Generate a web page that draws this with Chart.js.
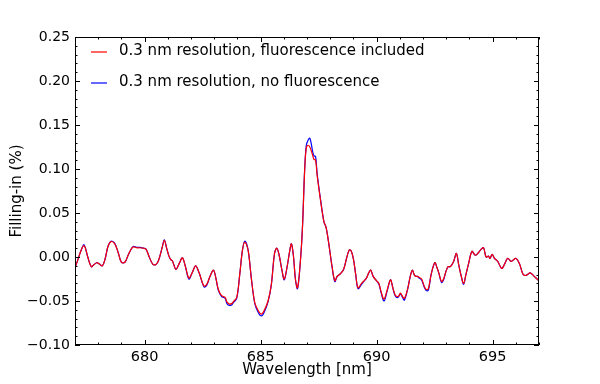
<!DOCTYPE html>
<html>
<head>
<meta charset="utf-8">
<script src="https://cdn.jsdelivr.net/npm/chart.js@4/dist/chart.umd.min.js"></script>
<style>
html,body{margin:0;padding:0;background:#fff;}
#wrap{width:600px;height:384px;}
</style>
</head>
<body>
<div id="wrap"><canvas id="c" width="600" height="384"></canvas></div>
<script>
const wavelengths = [677.0,677.1,677.2,677.3,677.38,677.45,677.55,677.7,677.8,677.94,678.05,678.18,678.3,678.42,678.55,678.7,678.85,679.0,679.15,679.29,679.4,679.51,679.65,679.8,679.95,680.06,680.2,680.35,680.49,680.6,680.75,680.85,680.95,681.05,681.13,681.2,681.35,681.5,681.63,681.75,681.91,682.05,682.2,682.35,682.56,682.68,682.82,682.97,683.08,683.18,683.32,683.47,683.55,683.65,683.75,683.82,683.97,684.1,684.22,684.32,684.46,684.6,684.75,684.9,685.03,685.15,685.32,685.46,685.6,685.7,685.8,685.92,686.02,686.15,686.25,686.33,686.42,686.5,686.59,686.7,686.8,686.9,686.97,687.05,687.12,687.18,687.25,687.3,687.37,687.44,687.58,687.73,687.82,687.94,688.08,688.2,688.3,688.44,688.58,688.7,688.82,688.9,689.0,689.1,689.2,689.35,689.5,689.56,689.68,689.75,689.85,690.0,690.1,690.2,690.32,690.45,690.6,690.7,690.8,690.92,691.03,691.1,691.2,691.35,691.45,691.54,691.62,691.69,691.76,691.83,691.94,692.05,692.14,692.23,692.35,692.51,692.6,692.68,692.8,692.9,692.97,693.08,693.18,693.32,693.44,693.54,693.65,693.75,693.85,693.97,694.11,694.25,694.36,694.51,694.61,694.72,694.82,694.89,694.98,695.08,695.22,695.39,695.5,695.65,695.79,695.89,696.0,696.15,696.3,696.4,696.5,696.62,696.79,697.0];

const fluorescenceIncluded = [-0.012,-0.005,0.003,0.010,0.013,0.010,0.000,-0.011,-0.009,-0.0065,-0.008,-0.010,-0.002,0.012,0.0175,0.0155,0.006,-0.006,-0.006,0.002,0.008,0.0115,0.0105,0.0105,0.010,0.009,0.000,-0.008,-0.0085,-0.004,0.010,0.019,0.010,0.001,-0.003,-0.0045,-0.014,-0.007,-0.001,-0.010,-0.024,-0.018,-0.010,-0.018,-0.033,-0.031,-0.022,-0.015,-0.025,-0.037,-0.044,-0.046,-0.051,-0.0535,-0.053,-0.051,-0.046,-0.020,0.008,0.017,0.008,-0.024,-0.052,-0.061,-0.065,-0.061,-0.050,-0.032,0.004,0.010,0.002,-0.015,-0.025,-0.010,0.006,0.015,0.000,-0.025,-0.035,-0.010,0.031,0.099,0.124,0.127,0.125,0.121,0.115,0.111,0.110,0.092,0.065,0.040,0.034,0.015,-0.011,-0.027,-0.022,-0.019,-0.014,-0.002,0.008,0.007,-0.002,-0.020,-0.035,-0.030,-0.026,-0.024,-0.017,-0.015,-0.022,-0.027,-0.030,-0.040,-0.048,-0.038,-0.026,-0.035,-0.043,-0.045,-0.041,-0.044,-0.047,-0.035,-0.022,-0.015,-0.020,-0.022,-0.022,-0.023,-0.025,-0.033,-0.037,-0.036,-0.020,-0.0065,-0.012,-0.018,-0.028,-0.024,-0.018,-0.011,-0.011,-0.005,0.004,-0.009,-0.022,-0.030,-0.020,-0.007,0.0065,0.002,0.004,0.009,0.0105,0.000,0.001,-0.0015,0.003,-0.0015,-0.005,-0.013,-0.009,-0.0015,-0.005,-0.0035,-0.0015,-0.007,-0.019,-0.021,-0.020,-0.018,-0.022,-0.027];

const noFluorescence = [-0.012,-0.005,0.003,0.010,0.014,0.010,0.000,-0.011,-0.009,-0.0065,-0.008,-0.010,-0.002,0.012,0.018,0.016,0.006,-0.006,-0.006,0.002,0.008,0.012,0.011,0.011,0.010,0.009,0.000,-0.008,-0.0085,-0.004,0.010,0.0195,0.010,0.001,-0.003,-0.0045,-0.014,-0.007,-0.001,-0.010,-0.025,-0.018,-0.010,-0.018,-0.034,-0.032,-0.022,-0.015,-0.025,-0.038,-0.045,-0.047,-0.053,-0.055,-0.0545,-0.052,-0.047,-0.020,0.008,0.018,0.008,-0.024,-0.053,-0.063,-0.067,-0.063,-0.051,-0.032,0.004,0.010,0.002,-0.015,-0.026,-0.010,0.006,0.015,0.000,-0.025,-0.036,-0.010,0.031,0.100,0.127,0.133,0.135,0.129,0.119,0.115,0.114,0.094,0.066,0.040,0.034,0.015,-0.011,-0.028,-0.022,-0.019,-0.014,-0.002,0.008,0.007,-0.002,-0.020,-0.036,-0.031,-0.026,-0.024,-0.017,-0.015,-0.022,-0.027,-0.031,-0.041,-0.050,-0.039,-0.026,-0.035,-0.044,-0.046,-0.042,-0.045,-0.049,-0.035,-0.022,-0.015,-0.020,-0.022,-0.022,-0.024,-0.026,-0.034,-0.038,-0.038,-0.020,-0.0065,-0.012,-0.018,-0.029,-0.025,-0.018,-0.011,-0.011,-0.005,0.004,-0.009,-0.022,-0.031,-0.020,-0.007,0.0065,0.002,0.004,0.009,0.0105,0.000,0.001,-0.0015,0.003,-0.0015,-0.005,-0.013,-0.009,-0.0015,-0.005,-0.0035,-0.0015,-0.007,-0.019,-0.021,-0.020,-0.018,-0.022,-0.027];

const xTicks = [680, 685, 690, 695];
const yTicks = [-0.10, -0.05, 0.00, 0.05, 0.10, 0.15, 0.20, 0.25];
const seriesLabels = ['0.3 nm resolution, fluorescence included', '0.3 nm resolution, no fluorescence'];
const seriesColors = ['#ff0000', '#0000ff'];

const FONT = "'DejaVu Sans', sans-serif";

function pts(vals){ return wavelengths.map((w,i)=>({x:w, y:vals[i]})); }

const framePlugin = {
  id: 'frame',
  afterDraw(chart){
    const {ctx, chartArea:a, scales:{x, y}} = chart;
    ctx.save();
    ctx.strokeStyle = '#000';
    ctx.lineWidth = 1;
    ctx.strokeRect(Math.round(a.left)+0.5, Math.round(a.top)+0.5, Math.round(a.right-a.left)-1, Math.round(a.bottom-a.top)-1);
    ctx.beginPath();
    for (let v = 677; v <= 697; v += 1) {
      const px = Math.round(x.getPixelForValue(v)) + 0.5;
      const len = (v % 5 === 0) ? 5 : 2.5;
      ctx.moveTo(px, a.bottom); ctx.lineTo(px, a.bottom - len);
      ctx.moveTo(px, a.top); ctx.lineTo(px, a.top + len);
    }
    for (let k = -10; k <= 25; k++) {
      const v = k / 100;
      const py = Math.round(y.getPixelForValue(v)) + 0.5;
      const len = (k % 5 === 0) ? 5 : 2.5;
      ctx.moveTo(a.left, py); ctx.lineTo(a.left + len, py);
      ctx.moveTo(a.right, py); ctx.lineTo(a.right - len, py);
    }
    ctx.stroke();
    ctx.font = '15px ' + FONT;
    ctx.textBaseline = 'middle';
    ctx.textAlign = 'left';
    const rows = [52, 83];
    seriesLabels.forEach((lab, i) => {
      ctx.strokeStyle = seriesColors[i];
      ctx.lineWidth = 1.2;
      ctx.beginPath();
      ctx.moveTo(91, rows[i]); ctx.lineTo(107, rows[i]);
      ctx.stroke();
      ctx.fillStyle = '#000';
      ctx.fillText(lab, 119, rows[i] - 1);
    });
    ctx.restore();
  }
};

new Chart(document.getElementById('c'), {
  type: 'line',
  data: {
    datasets: [
      { label: seriesLabels[0], data: pts(fluorescenceIncluded), borderColor: seriesColors[0], borderWidth: 1.2, pointRadius: 0, tension: 0.35, fill: false },
      { label: seriesLabels[1], data: pts(noFluorescence), borderColor: seriesColors[1], borderWidth: 1.2, pointRadius: 0, tension: 0.35, fill: false }
    ]
  },
  options: {
    responsive: false,
    animation: false,
    layout: { padding: { top: 37, right: 61, left: 0, bottom: 0 } },
    plugins: { legend: { display: false }, tooltip: { enabled: false } },
    scales: {
      x: {
        type: 'linear', min: 677, max: 697,
        grid: { display: false, drawTicks: false },
        border: { display: false },
        afterBuildTicks(s){ s.ticks = xTicks.map(v => ({value: v})); },
        afterFit(s){ s.height = 39; },
        ticks: { color: '#000', padding: 4, maxRotation: 0, font: { family: FONT, size: 14.5 }, callback: v => String(v) },
        title: { display: true, text: 'Wavelength [nm]', color: '#000', font: { family: FONT, size: 15 }, padding: { top: 0, bottom: 5 } }
      },
      y: {
        type: 'linear', min: -0.10, max: 0.25,
        grid: { display: false, drawTicks: false },
        border: { display: false },
        afterBuildTicks(s){ s.ticks = yTicks.map(v => ({value: v})); },
        afterFit(s){ s.width = 75; },
        ticks: { color: '#000', padding: 5, font: { family: FONT, size: 14 },
          callback: v => (v < -1e-9 ? '\u2212' : '') + Math.abs(v).toFixed(2) },
        title: { display: true, text: 'Filling-in (%)', color: '#000', font: { family: FONT, size: 15 }, padding: { top: 8, bottom: 0 } }
      }
    }
  },
  plugins: [framePlugin]
});
</script>
</body>
</html>
